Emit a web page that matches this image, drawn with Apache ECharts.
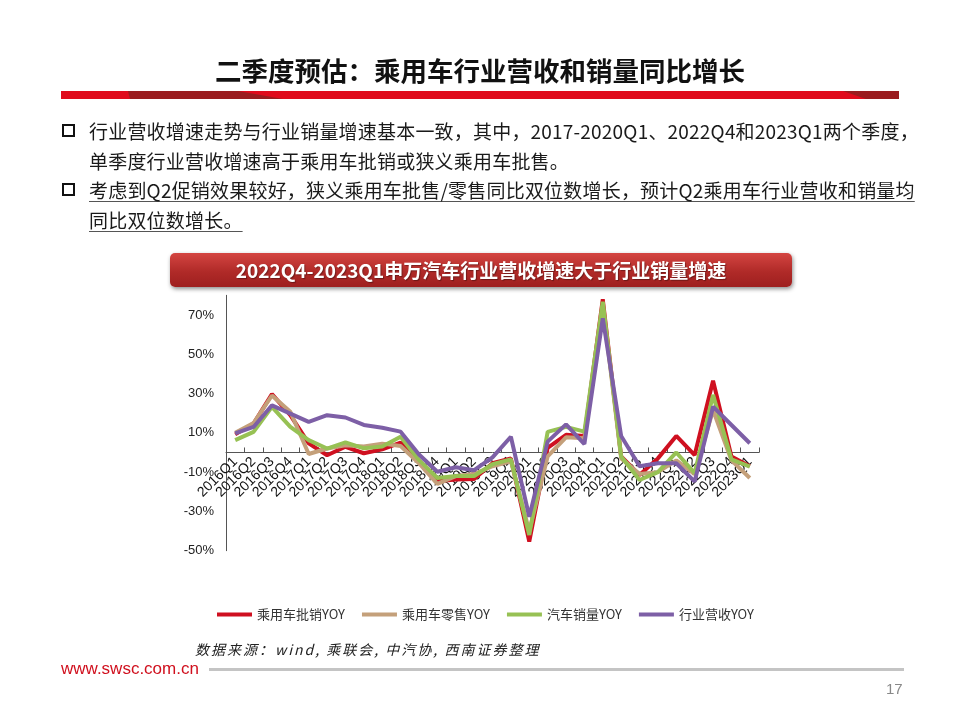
<!DOCTYPE html>
<html>
<head>
<meta charset="utf-8">
<script src="https://cdn.jsdelivr.net/npm/echarts@6/dist/echarts.min.js"></script>
<style>
  html, body { margin: 0; padding: 0; background: #fff; }
  #page { position: relative; width: 960px; height: 720px; overflow: hidden; font-family: "Noto Sans CJK SC", "Noto Sans", sans-serif; }
  #chart { position: absolute; left: 0; top: 0; width: 960px; height: 720px; }
  .abs { position: absolute; white-space: nowrap; }
  #title { left: 0; width: 960px; top: 50px; text-align: center; font-size: 26.5px; font-weight: bold; color: #111; line-height: 40px; }
  .bullet { left: 62px; width: 9px; height: 9px; border: 2px solid #111; }
  .btext { left: 89px; font-size: 19px; color: #1a1a1a; line-height: 29.5px; letter-spacing: 0.2px; }
  .btext u { text-decoration-color: #555; text-underline-offset: 3px; }
  #banner { left: 170px; top: 253px; width: 622px; height: 34px; border-radius: 5px;
    background: linear-gradient(#d44541, #b02a28 55%, #9e1f1f); box-shadow: 1px 2px 4px rgba(0,0,0,0.45);
    color: #fff; font-weight: bold; font-size: 19px; line-height: 34px; text-align: center; text-shadow: 1px 1px 1px rgba(0,0,0,0.35); }
  #source { left: 195px; top: 638px; font-size: 14px; font-style: italic; color: #222; letter-spacing: 2px; line-height: 22px; }
  #site { left: 61px; top: 658px; font-family: "Liberation Sans", Arial, sans-serif; font-size: 17px; color: #d0101e; line-height: 22px; }
  #hline { left: 209px; top: 668px; width: 695px; height: 3px; background: #c4c4c4; }
  #pnum { left: 886px; top: 680px; font-family: "Liberation Sans", Arial, sans-serif; font-size: 15px; color: #888; line-height: 18px; }
</style>
</head>
<body>
<div id="page">
  <div id="chart"></div>
  <div id="title" class="abs">二季度预估：乘用车行业营收和销量同比增长</div>
  <svg class="abs" style="left:0;top:0" width="960" height="110">
    <rect x="61" y="91" width="838" height="8" fill="#e00b1c"/>
    <polygon points="128,91 238,91 283,99 130,99" fill="#9a1c1f"/>
    <polygon points="843,91 899,91 899,99 866,99" fill="#9a1c1f"/>
  </svg>
  <div class="abs bullet" style="top:124px"></div>
  <div class="abs btext" style="top:116px">行业营收增速走势与行业销量增速基本一致，其中，2017-2020Q1、2022Q4和2023Q1两个季度，<br>单季度行业营收增速高于乘用车批销或狭义乘用车批售。</div>
  <div class="abs bullet" style="top:183px"></div>
  <div class="abs btext" style="top:175px"><u>考虑到Q2促销效果较好，狭义乘用车批售/零售同比双位数增长，预计Q2乘用车行业营收和销量均</u><br><u>同比双位数增长。</u></div>
  <div id="banner" class="abs">2022Q4-2023Q1申万汽车行业营收增速大于行业销量增速</div>
  <div id="source" class="abs">数据来源：wind, 乘联会, 中汽协, 西南证券整理</div>
  <div id="site" class="abs">www.swsc.com.cn</div>
  <div id="hline" class="abs"></div>
  <div id="pnum" class="abs">17</div>
</div>
<script>
const categories = ['2016Q1','2016Q2','2016Q3','2016Q4','2017Q1','2017Q2','2017Q3','2017Q4',
  '2018Q1','2018Q2','2018Q3','2018Q4','2019Q1','2019Q2','2019Q3','2019Q4',
  '2020Q1','2020Q2','2020Q3','2020Q4','2021Q1','2021Q2','2021Q3','2021Q4',
  '2022Q1','2022Q2','2022Q3','2022Q4','2023Q1'];
const seriesNames = ['乘用车批销YOY','乘用车零售YOY','汽车销量YOY','行业营收YOY'];
const pvWholesale = [9.2,14.7,29.7,19,4.6,-1.4,2.9,-0.4,1.6,5,-4.6,-14.6,-13.7,-13.5,-5.5,-3,-45.4,2.3,9,8.4,78,-2,-11.5,-3,8.4,-1.3,36.5,-2,-7];
const pvRetail    = [10,15,29,20.7,-0.8,2,3.7,3,4.5,3.3,-5.5,-16,-12,-11,-7,-4.5,-40,-2,7.7,7.2,75,-3,-11,-10,-4,-11,21.6,-4,-13];
const autoSales   = [6.3,10.5,23.2,13,6.3,2,5.1,2.1,3,8,-3.8,-13,-12,-12,-6,-3.5,-42,10.5,13,10.6,76.7,-2,-14,-10,0,-10.5,29.3,-3.5,-7.2];
const revenue     = [9.7,13,24,19.8,15.6,19,17.8,14,12.6,10.6,-1,-9.8,-7.5,-9,-2.5,8,-32.7,5.5,14.3,4.3,68.3,8.4,-7,-5.5,-5.5,-14.8,23.3,14,4.7];
const colors = ['#cf1020','#c4a07a','#97c154','#7d5fa6'];
const yMin = -50, yMax = 80;
const gridTop = 295.3, gridBottom = 169.3;

const chart = echarts.init(document.getElementById('chart'), null, {renderer: 'canvas'});
const dataSets = [pvWholesale, pvRetail, autoSales, revenue];
// place the category axis on the zero line of the value axis
const gridH = 720 - gridTop - gridBottom;
const zeroOffset = -gridH * (0 - yMin) / (yMax - yMin);
chart.setOption({
  animation: false,
  color: colors,
  grid: { left: 226, right: 201, top: gridTop, bottom: gridBottom, containLabel: false },
  legend: {
    data: seriesNames, left: 212, top: 603, itemGap: 17, itemWidth: 35, itemHeight: 4,
    icon: 'rect',
    textStyle: { fontSize: 13, color: '#333', fontFamily: 'Noto Sans CJK SC' }
  },
  xAxis: {
    type: 'category', data: categories, boundaryGap: true, offset: zeroOffset,
    axisLine: { onZero: false, lineStyle: { color: '#555', width: 1 } },
    axisTick: { show: true, inside: true, length: 5, lineStyle: { color: '#555' } },
    axisLabel: { rotate: 45, interval: 0, margin: 7, fontSize: 14, color: '#111', fontFamily: 'Liberation Sans' },
    splitLine: { show: false }
  },
  yAxis: {
    type: 'value', min: yMin, max: yMax, interval: 10,
    axisLine: { show: true, lineStyle: { color: '#555' } },
    axisTick: { show: false },
    splitLine: { show: false },
    axisLabel: {
      fontSize: 13, color: '#222', fontFamily: 'Liberation Sans', margin: 12,
      formatter: v => (Math.abs(v) % 20 === 10 ? v + '%' : '')
    }
  },
  series: seriesNames.map((n, i) => ({
    name: n, type: 'line', data: dataSets[i], symbol: 'none', smooth: false,
    lineStyle: { width: 4, color: colors[i] }, z: 2 + i
  }))
});
</script>
</body>
</html>
